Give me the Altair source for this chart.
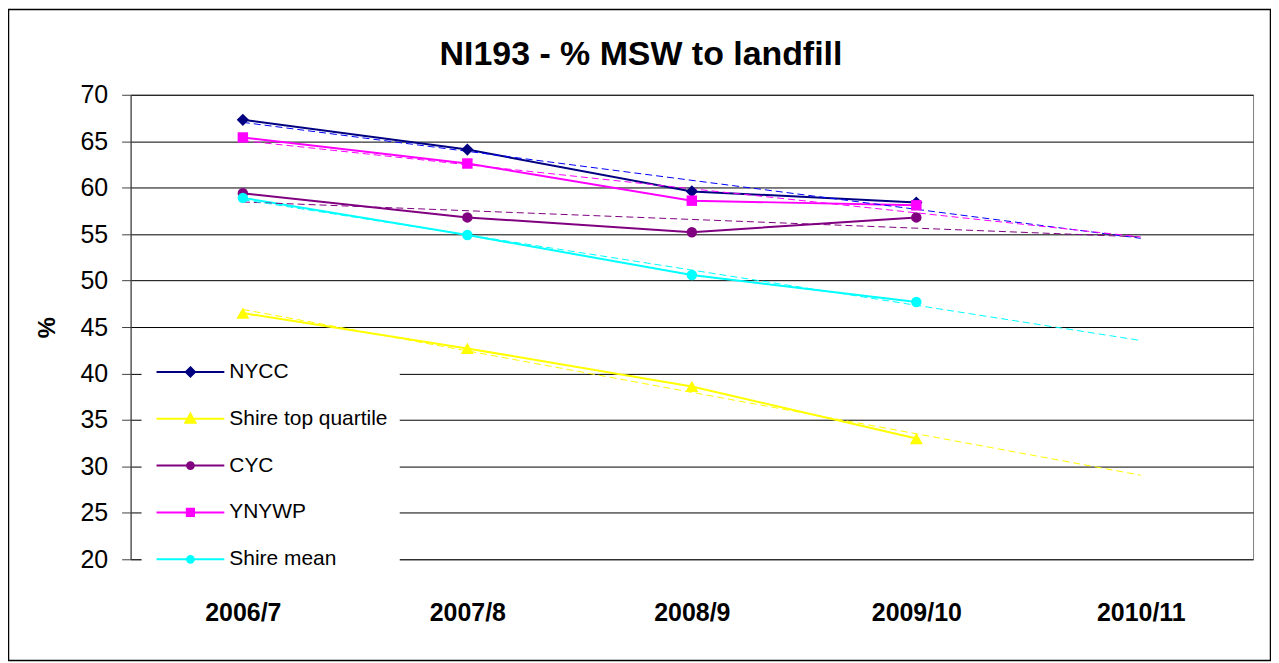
import altair as alt
import pandas as pd

# ---- data ----
categories = ["2006/7", "2007/8", "2008/9", "2009/10", "2010/11"]
series_names = ["NYCC", "Shire top quartile", "CYC", "YNYWP", "Shire mean"]
nycc = [67.3, 64.1, 59.6, 58.4]
shire_top_quartile = [46.5, 42.7, 38.6, 33.0]
cyc = [59.4, 56.8, 55.2, 56.8]
ynywp = [65.4, 62.6, 58.6, 58.1]
shire_mean = [58.9, 54.9, 50.6, 47.7]
y_ticks = [20, 25, 30, 35, 40, 45, 50, 55, 60, 65, 70]

# ---- styles ----
line_colors = ["#000080", "#FFFF00", "#800080", "#FF00FF", "#00FFFF"]
trend_colors = ["#0000FF", "#FFFF00", "#800080", "#FF00FF", "#00FFFF"]
markers = ["diamond", "triangle-up", "circle", "square", "circle"]
marker_sizes = [150, 170, 110, 110, 110]
# legend symbols: a line through a marker (unit = 10 px at symbol size 400)
legend_paths = [
    "M-3.4,0L3.4,0M0,-0.46L0.46,0L0,0.46L-0.46,0Z",
    "M-3.4,0L3.4,0M0,-0.51L0.51,0.41L-0.51,0.41Z",
    "M-3.4,0L3.4,0M0.34,0A0.34,0.34,0,1,1,-0.34,0A0.34,0.34,0,1,1,0.34,0Z",
    "M-3.4,0L3.4,0M-0.36,-0.36L0.36,-0.36L0.36,0.36L-0.36,0.36Z",
    "M-3.4,0L3.4,0M0.34,0A0.34,0.34,0,1,1,-0.34,0A0.34,0.34,0,1,1,0.34,0Z",
]
FONT = "Liberation Sans"

values_by_series = [nycc, shire_top_quartile, cyc, ynywp, shire_mean]
rows = []
for name, vals, mk, ms, lc, tc in zip(series_names, values_by_series, markers,
                                      marker_sizes, line_colors, trend_colors):
    for i, v in enumerate(vals):
        rows.append({"series": name, "idx": i + 1, "value": v, "marker": mk,
                     "msize": ms, "line_color": lc, "trend_color": tc})
df = pd.DataFrame(rows)

label_array = "[" + ",".join("'" + c + "'" for c in categories) + "]"

x_enc = alt.X(
    "idx:Q",
    scale=alt.Scale(domain=[0.5, len(categories) + 0.5], nice=False, zero=False),
    axis=alt.Axis(values=list(range(1, len(categories) + 1)),
                  labelExpr=label_array + "[datum.value - 1]",
                  grid=False, ticks=False, domain=False,
                  labelFontSize=25, labelFontWeight="bold", labelPadding=41,
                  labelFont=FONT, labelColor="black", title=None),
)
y_enc = alt.Y(
    "value:Q",
    scale=alt.Scale(domain=[20, 70], nice=False, zero=False),
    axis=alt.Axis(values=y_ticks, grid=True, gridColor="#000000", gridWidth=1,
                  tickSize=9, tickColor="#404040", domainColor="#404040",
                  labelFontSize=25, labelFont=FONT, labelColor="black",
                  labelPadding=14, title="%", titleFontSize=24,
                  titleFontWeight="bold", titleFont=FONT, titleColor="black",
                  titlePadding=21),
)

base = alt.Chart(df)

trends = base.transform_regression(
    "idx", "value", groupby=["series", "trend_color"], extent=[1, len(categories)]
).mark_line(strokeWidth=1, strokeDash=[7, 4]).encode(
    x=x_enc, y=y_enc,
    color=alt.Color("trend_color:N", scale=None),
    detail="series:N",
)

lines = base.mark_line(strokeWidth=2).encode(
    x=x_enc, y=y_enc,
    color=alt.Color("line_color:N", scale=None),
    detail="series:N",
)

points = base.mark_point(filled=True, opacity=1).encode(
    x=x_enc, y=y_enc,
    color=alt.Color("line_color:N", scale=None),
    shape=alt.Shape("marker:N", scale=None),
    size=alt.Size("msize:Q", scale=None),
)

leg = alt.Legend(
    orient="none", legendX=11, legendY=255, title=None,
    fillColor="white", padding=12, symbolSize=400, symbolStrokeWidth=2,
    symbolOffset=26, symbolOpacity=1, labelFontSize=21, labelFont=FONT,
    labelColor="black", labelOffset=28, rowPadding=26, labelLimit=400, zindex=2,
)

legend_layer = base.mark_point(filled=True, opacity=0).encode(
    x=x_enc, y=y_enc,
    color=alt.Color("series:N", scale=alt.Scale(domain=series_names, range=line_colors), legend=leg),
    stroke=alt.Stroke("series:N", scale=alt.Scale(domain=series_names, range=line_colors), legend=leg),
    shape=alt.Shape("series:N", scale=alt.Scale(domain=series_names, range=legend_paths), legend=leg),
)

frame = alt.Chart(alt.Data(values=[{"a": 1}])).mark_rect(
    fill="transparent", stroke="black", strokeWidth=1.5
).encode(
    x=alt.value(-122.5), x2=alt.value(1143.5), y=alt.value(-85.5), y2=alt.value(567.5)
)

chart = alt.layer(frame, lines, trends, points, legend_layer).properties(
    width=1126, height=466,
    padding={"left": 123, "top": 86, "right": 18, "bottom": 103},
    autosize=alt.AutoSizeParams(type="none"),
    title=alt.Title("NI193 - % MSW to landfill", fontSize=34, fontWeight="bold",
                    font=FONT, color="black", anchor="middle", frame="group",
                    dx=-51, offset=-63),
).configure_view(stroke="#808080", strokeWidth=1)

chart.save("out.html", embed_options={"renderer": "svg", "actions": False})
